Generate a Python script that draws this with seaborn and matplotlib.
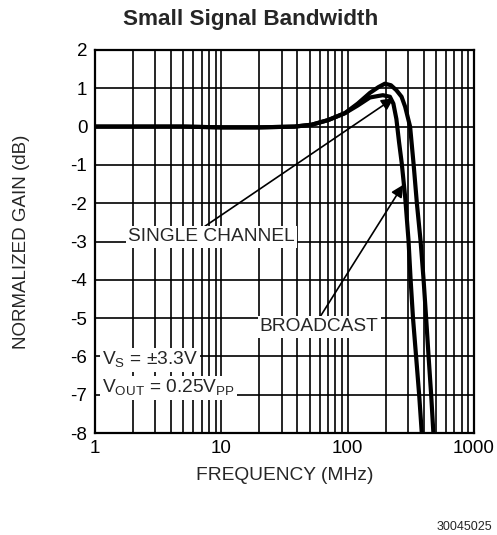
import matplotlib
matplotlib.use("Agg")
import matplotlib.pyplot as plt
import matplotlib.ticker as mticker
import seaborn as sns
import pandas as pd

# ---- data ----
freq_broadcast = [1, 2, 5, 10, 20, 38, 52, 70, 95, 120, 150, 175, 197, 220, 243, 267, 285,
                  312, 333, 353, 378, 399, 418, 437, 458, 477, 490]
gain_broadcast = [0.0, 0.0, 0.0, -0.02, -0.02, 0.0, 0.05, 0.17, 0.35, 0.6, 0.88, 1.03, 1.12,
                  1.08, 0.95, 0.78, 0.52, 0.0, -1.0, -2.0, -3.0, -4.0, -5.0, -6.0, -7.0, -8.0, -8.6]

freq_single = [1, 2, 5, 10, 20, 38, 52, 70, 95, 120, 150, 175, 190, 216, 230, 243, 255, 268,
               285, 303, 315, 329, 348, 368, 386, 395]
gain_single = [0.0, 0.0, 0.0, -0.02, -0.02, 0.0, 0.05, 0.17, 0.35, 0.55, 0.76, 0.8, 0.82, 0.78,
               0.6, 0.2, -0.4, -0.96, -1.83, -2.96, -4.0, -5.0, -6.0, -7.0, -8.0, -8.5]

x_ticks = [1, 10, 100, 1000]
x_ticklabels = ["1", "10", "100", "1000"]
y_ticks = [2, 1, 0, -1, -2, -3, -4, -5, -6, -7, -8]

title = "Small Signal Bandwidth"
x_label = "FREQUENCY (MHz)"
y_label = "NORMALIZED GAIN (dB)"
note = "30045025"

df = pd.concat([
    pd.DataFrame({"freq": freq_broadcast, "gain": gain_broadcast, "curve": "BROADCAST"}),
    pd.DataFrame({"freq": freq_single, "gain": gain_single, "curve": "SINGLE CHANNEL"}),
], ignore_index=True)

sns.set_style("white")
plt.rcParams["font.family"] = ["Liberation Sans", "DejaVu Sans"]
plt.rcParams["mathtext.fontset"] = "custom"
plt.rcParams["mathtext.rm"] = "Liberation Sans"
plt.rcParams["axes.unicode_minus"] = False

fig = plt.figure(figsize=(4.97, 5.35), dpi=100)
ax = fig.add_axes([95 / 497, 1 - 433 / 535, 379 / 497, 383 / 535])

sns.lineplot(data=df, x="freq", y="gain", hue="curve", palette=["black", "black"],
             linewidth=3.0, legend=False, ax=ax, estimator=None, sort=False, zorder=3)

ax.set_xscale("log")
ax.set_xlim(1, 1000)
ax.set_ylim(-8, 2)
ax.xaxis.set_major_locator(mticker.FixedLocator(x_ticks))
ax.xaxis.set_major_formatter(mticker.FixedFormatter(x_ticklabels))
ax.xaxis.set_minor_locator(mticker.LogLocator(base=10, subs=range(2, 10)))
ax.xaxis.set_minor_formatter(mticker.NullFormatter())
ax.yaxis.set_major_locator(mticker.FixedLocator(y_ticks))
ax.grid(True, which="both", axis="x", color="black", linewidth=1.2)
ax.grid(True, which="major", axis="y", color="black", linewidth=1.2)
ax.tick_params(axis="both", which="both", length=0, labelsize=13.5, colors="black")
ax.tick_params(axis="x", pad=5)
ax.tick_params(axis="y", pad=5.5)
for s in ax.spines.values():
    s.set_visible(True)
    s.set_color("black")
    s.set_linewidth(1.6)

ax.set_xlabel(x_label, fontsize=13.8, va="center")
ax.xaxis.set_label_coords(0.5, (433 - 476) / 383)
ax.set_ylabel(y_label, fontsize=13.5, va="center")
ax.yaxis.set_label_coords((22 - 95) / 379, 0.5)

box = dict(facecolor="white", edgecolor="none", pad=1.5)
arrow = dict(arrowstyle="-|>", color="black", lw=1.2, mutation_scale=18, shrinkA=0, shrinkB=0)
ax.annotate("SINGLE CHANNEL", xy=(231, 0.74), xytext=(8.4, -2.88), fontsize=13.8,
            ha="center", va="center", bbox=box,
            arrowprops=dict(arrow, relpos=(0.44, 1.0)), zorder=4)
ax.annotate("BROADCAST", xy=(275, -1.52), xytext=(59.4, -5.23), fontsize=13.8,
            ha="center", va="center", bbox=box,
            arrowprops=dict(arrow, relpos=(0.5, 1.0)), zorder=4)
ax.text(1.14, -6.1, r"V$_{\mathregular{S}}$ = ±3.3V", fontsize=13.8, ha="left", va="center",
        bbox=box, zorder=4)
ax.text(1.14, -6.82, r"V$_{\mathregular{OUT}}$ = 0.25V$_{\mathregular{PP}}$", fontsize=13.8,
        ha="left", va="center", bbox=box, zorder=4)

fig.text(251 / 497, 1 - 19 / 535, title, fontsize=16.2, fontweight="bold", ha="center", va="center")
fig.text(492 / 497, 1 - 527 / 535, note, fontsize=9, ha="right", va="center")

fig.savefig("out.png", dpi=100, facecolor="white")
